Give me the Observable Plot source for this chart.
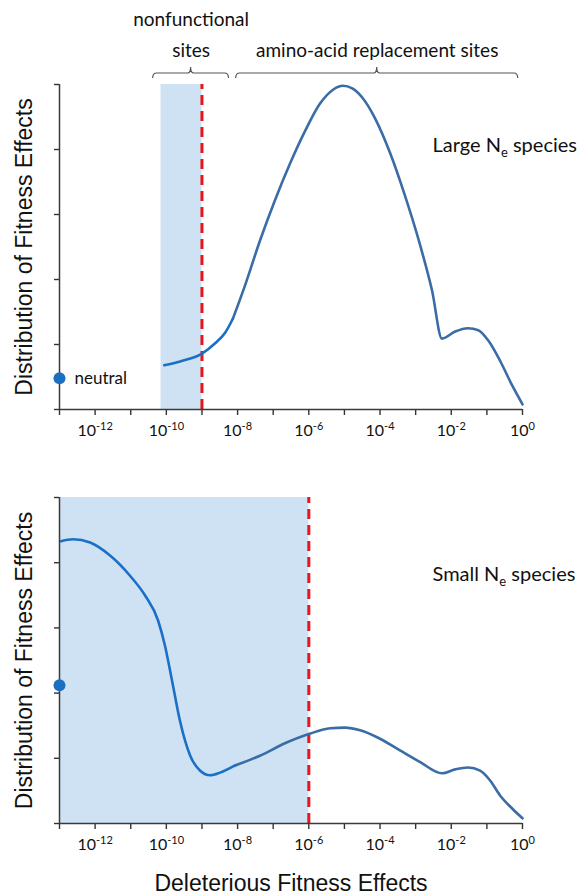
<!DOCTYPE html>
<html>
<head>
<meta charset="utf-8">
<script src="https://cdn.jsdelivr.net/npm/d3@7"></script>
<script src="https://cdn.jsdelivr.net/npm/@observablehq/plot@0.6"></script>
<style>
  html, body { margin: 0; padding: 0; background: #fff; }
  #chart svg { display: block; }
  g[aria-label$="axis tick"] path, g[aria-label$="axis"] line { stroke-width: 1.4px; }
</style>
</head>
<body>
<div id="chart"></div>
<script>
// ---------- data ----------
const tickExponents = d3.range(-13, 1);              // one tick per decade
const labelledExponents = [-12, -10, -8, -6, -4, -2, 0];
const yTicks = [0, 1, 2, 3, 4, 5];

// Large Ne species: DFE curve (x as log10 of deleterious effect)
const largeExp = [-10.06, -9.61, -9.0, -8.63, -8.35, -8.13, -7.79, -7.37, -6.95, -6.53, -6.10, -5.68, -5.32, -5.04, -4.78, -4.50, -4.14, -3.72, -3.30, -2.87, -2.54, -2.26, -1.89, -1.53, -1.24, -0.96, -0.63, -0.29, 0];
const largeDfe = [0.68, 0.74, 0.86, 1.02, 1.18, 1.40, 1.91, 2.60, 3.22, 3.78, 4.29, 4.71, 4.92, 4.98, 4.94, 4.80, 4.48, 3.95, 3.29, 2.52, 1.83, 1.09, 1.20, 1.25, 1.22, 1.06, 0.75, 0.37, 0.08];

// Small Ne species
const smallExp = [-12.96, -12.62, -12.14, -11.58, -11.02, -10.60, -10.23, -10.04, -9.84, -9.62, -9.33, -9.05, -8.77, -8.49, -8.07, -7.37, -6.67, -5.96, -5.40, -4.98, -4.56, -4.0, -3.44, -2.87, -2.26, -1.89, -1.53, -1.19, -0.91, -0.63, -0.29, 0];
const smallDfe = [4.33, 4.36, 4.31, 4.11, 3.80, 3.50, 3.11, 2.73, 2.19, 1.58, 1.04, 0.81, 0.74, 0.78, 0.89, 1.04, 1.23, 1.38, 1.46, 1.47, 1.43, 1.30, 1.12, 0.94, 0.77, 0.83, 0.86, 0.81, 0.66, 0.43, 0.23, 0.08];

// neutral point mass, drift barrier (red dashed), effectively-neutral band
const neutralLarge = 0.48;
const neutralSmall = 2.12;
const barrierLarge = -9;
const barrierSmall = -6;
const bandLargeFrom = -10.15;
const bandSmallFrom = -13;
const brightLargeUntil = -8.13;
const brightSmallUntil = -8.07;

// site-class brackets (top panel)
const bracketLines = [["nonfunctional", "sites"], ["amino-acid replacement sites"]];
const bracketFrom = [-10.37, -8.04];
const bracketTo = [-8.24, -0.12];

const speciesLabels = ["Large N|e| species", "Small N|e| species"];
const yTitle = "Distribution of Fitness Effects";
const xTitle = "Deleterious Fitness Effects";

// ---------- drawing ----------
const W = 587;
const ML = 59, MR = 65;
const LIGHT = "Lato";
const SVGNS = "http://www.w3.org/2000/svg";

function panel({exp, dfe, bright, neutral, barrier, bandFrom, species, height, marginTop, marginBottom, top}) {
  const pts = exp.map((e, i) => ({e, v: dfe[i]}));
  const ptsBright = pts.filter(d => d.e <= bright);
  const ptsRest = pts.filter(d => d.e >= bright);
  const plain = species.replaceAll("|", "");
  const marks = [
    Plot.rect([{a: bandFrom, b: barrier}], {x1: d => 10 ** d.a, x2: d => 10 ** d.b, y1: 0, y2: 5, fill: "#cfe2f3"}),
    Plot.ruleX([barrier], {x: d => 10 ** d, y1: 0, y2: 5, stroke: "#e8161b", strokeWidth: 3, strokeDasharray: "10,6"}),
    Plot.line(ptsRest, {x: d => 10 ** d.e, y: "v", curve: "monotone-x", stroke: "#3a6ca6", strokeWidth: 2.6}),
    Plot.line(ptsBright, {x: d => 10 ** d.e, y: "v", curve: "monotone-x", stroke: "#1c6fc6", strokeWidth: 2.6}),
    Plot.ruleX([-13], {x: d => 10 ** d, y1: 0, y2: 5, stroke: "#3a3a3a", strokeWidth: 1.5}),
    Plot.ruleY([0], {x1: 10 ** -13, x2: 1, stroke: "#3a3a3a", strokeWidth: 1.5}),
    Plot.dot([neutral], {x: () => 10 ** -13, y: d => d, r: 6, fill: "#1a6fc0"}),
    Plot.text([yTitle], {text: d => d, frameAnchor: "left", textAnchor: "middle", rotate: -90, dx: -35, fontSize: 23, fontFamily: "Liberation Sans", fill: "#111"}),
    Plot.text([plain], {text: d => d, frameAnchor: "top-right", textAnchor: "start", lineAnchor: "bottom", dx: -90, dy: top ? 67 : 83, fontSize: 20, fontFamily: LIGHT, fill: "#111"})
  ];
  if (top) {
    marks.push(
      Plot.text(["neutral"], {text: d => d, x: () => 10 ** -13, y: () => neutral, dx: 15, textAnchor: "start", fontSize: 17, fontFamily: LIGHT, fill: "#111"}),
      (index, scales, values, dimensions) => {
        const g = d3.create("svg:g").attr("fill", "none").attr("stroke", "#555").attr("stroke-width", 1.2);
        const yb = dimensions.marginTop;
        bracketFrom.forEach((f, i) => {
          const x1 = scales.x(10 ** f), x2 = scales.x(10 ** bracketTo[i]);
          const xc = scales.x(10 ** ((f + bracketTo[i]) / 2));
          const h = yb - 11, e = yb - 6, c = yb - 17;
          g.append("path").attr("d",
            `M${x1},${e} Q${x1},${h} ${x1 + 4},${h} L${xc - 3},${h} Q${xc},${h} ${xc},${c} Q${xc},${h} ${xc + 3},${h} L${x2 - 4},${h} Q${x2},${h} ${x2},${e}`);
        });
        return g.node();
      }
    );
    bracketLines.forEach((lines, i) => {
      const mid = (bracketFrom[i] + bracketTo[i]) / 2;
      lines.forEach((line, j) => {
        marks.push(Plot.text([line], {text: d => d, x: () => 10 ** mid, frameAnchor: "top", lineAnchor: "bottom",
          dy: -28 - 31 * (lines.length - 1 - j), fontSize: 19, fontFamily: LIGHT, fill: "#111"}));
      });
    });
  } else {
    marks.push(Plot.text([xTitle], {text: d => d, frameAnchor: "bottom", lineAnchor: "bottom", dy: 67, fontSize: 23, fontFamily: "Liberation Sans", fill: "#111"}));
  }
  const svg = Plot.plot({
    width: W, height, marginLeft: ML, marginRight: MR, marginTop, marginBottom,
    style: {fontFamily: LIGHT, fontSize: "16px", color: "#333", background: "#fff", overflow: "visible"},
    x: {type: "log", domain: [10 ** -13, 1], ticks: tickExponents.map(e => 10 ** e), tickSize: 6, tickPadding: 9,
        tickFormat: v => { const e = Math.round(Math.log10(v)); return labelledExponents.includes(e) ? `10^${e}` : ""; }, label: null},
    y: {domain: [0, 5], ticks: yTicks, tickSize: 5, tickFormat: () => "", label: null},
    marks
  });
  const mk = (txt, attrs) => { const n = document.createElementNS(SVGNS, "tspan"); n.textContent = txt; for (const k in attrs) n.setAttribute(k, attrs[k]); return n; };
  svg.querySelectorAll("text").forEach(t => {
    const s = t.textContent;
    if (s.startsWith("10^")) {
      // superscript exponents in tick labels
      t.textContent = "";
      t.append(mk("10", {}), mk(s.slice(3), {"font-size": "11px", dy: "-0.55em"}));
      t.setAttribute("fill", "#111");
    } else if (s === plain) {
      // subscript e in species label
      const parts = species.split("|");
      t.textContent = "";
      t.append(mk(parts[0], {}), mk(parts[1], {"font-size": "13px", dy: "5"}), mk(parts[2], {dy: "-5"}));
    }
  });
  return svg;
}

const chart = document.getElementById("chart");
chart.append(panel({exp: largeExp, dfe: largeDfe, bright: brightLargeUntil, neutral: neutralLarge, barrier: barrierLarge,
  bandFrom: bandLargeFrom, species: speciesLabels[0], height: 440, marginTop: 84, marginBottom: 31, top: true}));
chart.append(panel({exp: smallExp, dfe: smallDfe, bright: brightSmallUntil, neutral: neutralSmall, barrier: barrierSmall,
  bandFrom: bandSmallFrom, species: speciesLabels[1], height: 454, marginTop: 57, marginBottom: 71, top: false}));
</script>
</body>
</html>
